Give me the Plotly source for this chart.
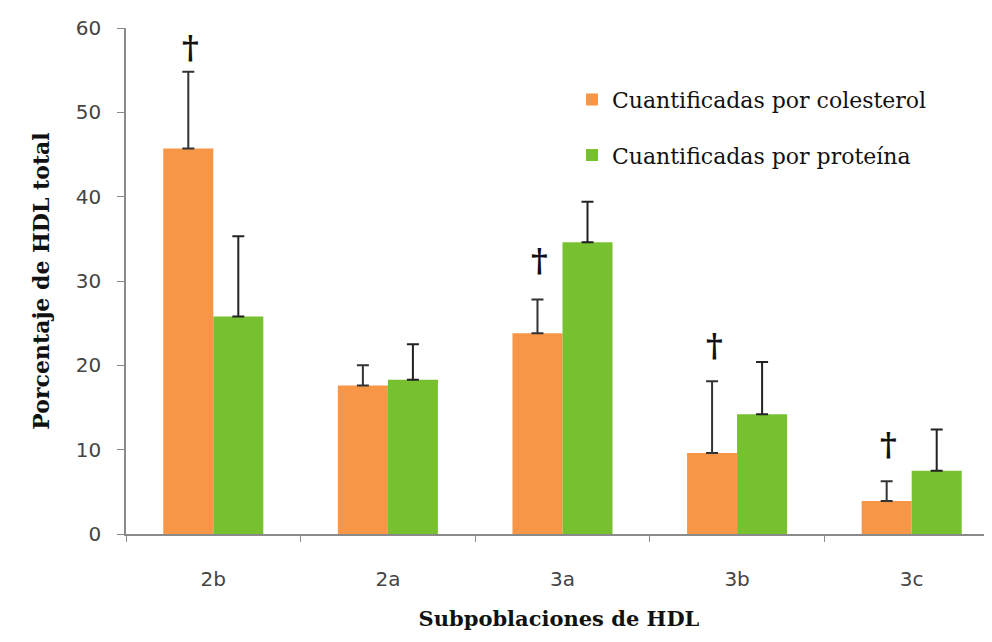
import plotly.graph_objects as go

categories = ["2b", "2a", "3a", "3b", "3c"]
colesterol = [45.7, 17.6, 23.8, 9.6, 3.9]
colesterol_err = [9.1, 2.4, 4.0, 8.5, 2.35]
proteina = [25.8, 18.3, 34.6, 14.2, 7.5]
proteina_err = [9.5, 4.2, 4.8, 6.2, 4.9]
dagger_cats = ["2b", "3a", "3b", "3c"]
dagger_y = [57.8, 32.5, 22.4, 10.7]

serif = "DejaVu Serif"
sans = "DejaVu Sans"

fig = go.Figure()
fig.add_trace(go.Bar(
    x=categories, y=colesterol, name="Cuantificadas por colesterol",
    marker=dict(color="#F79646", line=dict(width=0)),
    error_y=dict(type="data", array=colesterol_err, arrayminus=[0]*5, symmetric=False,
                 color="#333333", thickness=2, width=6),
    legendgroup="a",
))
fig.add_trace(go.Bar(
    x=categories, y=proteina, name="Cuantificadas por proteína",
    marker=dict(color="#77C030", line=dict(width=0)),
    error_y=dict(type="data", array=proteina_err, arrayminus=[0]*5, symmetric=False,
                 color="#222222", thickness=2, width=6),
    legendgroup="b",
))

for c, yv in zip(dagger_cats, dagger_y):
    fig.add_annotation(x=c, y=yv, text="<b>†</b>", showarrow=False, xshift=-23,
                       yanchor="middle", font=dict(family=serif, size=32, color="#111111"))

fig.update_layout(
    width=992, height=642,
    margin=dict(l=118, r=8, t=20, b=116),
    plot_bgcolor="white", paper_bgcolor="white",
    barmode="group", bargap=0.427, bargroupgap=0,
    showlegend=True,
    legend=dict(x=0.515, y=0.9, xanchor="left", yanchor="top",
                font=dict(family=serif, size=22, color="#111111"),
                tracegroupgap=24, bgcolor="rgba(0,0,0,0)", itemwidth=30),
    xaxis=dict(range=[-0.5, 4.46], showline=True, linecolor="#8a8a8a", linewidth=1.5,
               ticks="outside", tickson="boundaries", ticklen=6, tickcolor="#8a8a8a",
               ticklabelstandoff=26,
               tickfont=dict(family=sans, size=20, color="#444444"),
               title=dict(text="<b>Subpoblaciones de HDL</b>", standoff=22,
                          font=dict(family=serif, size=21, color="#111111"))),
    yaxis=dict(range=[0, 60], dtick=10, showline=True, linecolor="#8a8a8a", linewidth=1.5,
               ticks="outside", ticklen=7, tickcolor="#8a8a8a", showgrid=False, zeroline=False,
               ticklabelstandoff=12,
               tickfont=dict(family=sans, size=20, color="#444444"),
               title=dict(text="<b>Porcentaje de HDL total</b>", standoff=20,
                          font=dict(family=serif, size=22, color="#111111"))),
)

fig.write_html("out.html")
